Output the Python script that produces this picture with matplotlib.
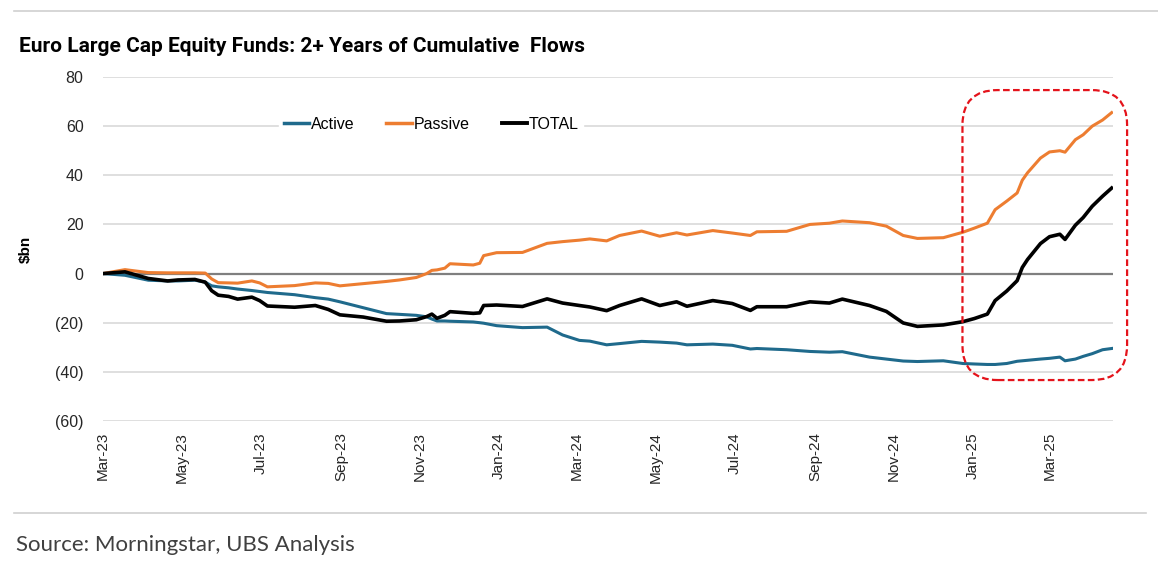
import matplotlib
matplotlib.use('Agg')
import matplotlib.pyplot as plt
import matplotlib.dates as mdates
import pandas as pd
from matplotlib.patches import FancyBboxPatch
from matplotlib.lines import Line2D

# cumulative flows, $bn
dates = [
    '2023-03-01', '2023-03-18', '2023-04-05', '2023-04-20', '2023-04-28', '2023-05-11',
    '2023-05-19', '2023-05-24', '2023-05-29', '2023-06-06', '2023-06-13', '2023-06-24',
    '2023-06-30', '2023-07-06', '2023-07-27', '2023-08-12', '2023-08-22', '2023-08-31',
    '2023-09-18', '2023-10-06', '2023-10-16', '2023-10-29', '2023-11-06', '2023-11-10',
    '2023-11-14', '2023-11-20', '2023-11-24', '2023-12-12', '2023-12-17', '2023-12-20',
    '2023-12-30', '2024-01-19', '2024-02-07', '2024-02-19', '2024-03-03', '2024-03-11',
    '2024-03-24', '2024-04-03', '2024-04-20', '2024-05-04', '2024-05-17', '2024-05-25',
    '2024-06-14', '2024-06-29', '2024-07-13', '2024-07-18', '2024-08-10', '2024-08-28',
    '2024-09-12', '2024-09-22', '2024-10-13', '2024-10-26', '2024-11-08', '2024-11-19',
    '2024-12-09', '2024-12-24', '2025-01-02', '2025-01-12', '2025-01-18', '2025-01-27',
    '2025-02-04', '2025-02-08', '2025-02-12', '2025-02-22', '2025-03-01', '2025-03-09',
    '2025-03-13', '2025-03-21', '2025-03-27', '2025-04-03', '2025-04-11', '2025-04-18',
]

active = [
    0, -0.7, -2.7, -3, -3, -2.7,
    -3.5, -5, -5.4, -5.8, -6.3, -6.9,
    -7.3, -7.7, -8.6, -9.8, -10.4, -11.5,
    -13.9, -16.3, -16.6, -17, -17.6, -18.5,
    -19.3, -19.3, -19.4, -19.7, -20, -20.2,
    -21.2, -22, -21.8, -25, -27.2, -27.5,
    -29, -28.5, -27.6, -27.9, -28.3, -29,
    -28.7, -29.2, -30.7, -30.5, -31, -31.7,
    -32, -31.8, -34, -34.8, -35.6, -35.8,
    -35.5, -36.6, -36.8, -37, -37, -36.6,
    -35.7, -35.5, -35.3, -34.8, -34.5, -34,
    -35.5, -34.8, -33.7, -32.6, -31, -30.5,
]

passive = [
    0, 1.6, 0.4, 0.3, 0.3, 0.3,
    0.2, -2.2, -3.7, -3.8, -3.9, -3,
    -3.8, -5.4, -4.9, -3.8, -4, -5,
    -4.1, -3.2, -2.6, -1.6, 0, 1.3,
    1.5, 2.2, 4, 3.5, 4.2, 7.3,
    8.5, 8.6, 12.3, 13, 13.6, 14.1,
    13.3, 15.5, 17.3, 15.2, 16.6, 15.7,
    17.5, 16.5, 15.5, 17, 17.2, 20,
    20.5, 21.4, 20.7, 19.3, 15.5, 14.3,
    14.6, 16.8, 18.5, 20.5, 26, 29.5,
    32.8, 38, 41, 47, 49.5, 50,
    49.4, 54.5, 56.5, 60, 62.5, 65.5,
]

total = [
    0, 0.7, -2, -3, -2.6, -2.4,
    -3.5, -7, -8.8, -9.3, -10.4, -9.6,
    -11, -13.2, -13.7, -13, -14.6, -16.8,
    -17.7, -19.4, -19.3, -18.8, -17.5, -16.5,
    -18.2, -17, -15.5, -16.2, -16, -13,
    -12.8, -13.4, -10.3, -12, -13, -13.6,
    -15.1, -13, -10.3, -13, -11.5, -13.3,
    -11, -12.2, -15, -13.5, -13.5, -11.5,
    -12, -10.4, -13, -15.4, -20.1, -21.5,
    -20.9, -19.6, -18.3, -16.5, -11, -7.1,
    -2.9, 2.5, 5.7, 12.2, 15, 16,
    13.9, 19.7, 22.8, 27.4, 31.5, 34.8,
]

y_ticks = [80, 60, 40, 20, 0, -20, -40, -60]
y_labels = ['80', '60', '40', '20', '0', '(20)', '(40)', '(60)']

ARIAL = ['Liberation Sans', 'DejaVu Sans']


def main():
    x = pd.to_datetime(dates)

    fig = plt.figure(figsize=(11.58, 5.65), dpi=100)
    ax = fig.add_axes([0.0889, 0.2549, 0.8722, 0.6088])

    ax.set_ylim(-60, 80)
    ax.set_xlim(pd.Timestamp('2023-03-01'), pd.Timestamp('2025-04-19'))
    ax.set_yticks(y_ticks)
    ax.set_yticklabels(y_labels, family=ARIAL)
    ax.yaxis.grid(True, color='#d9d9d9', linewidth=1.2)
    ax.set_axisbelow(True)
    ax.axhline(0, color='#7f7f7f', linewidth=1.6, zorder=1)

    ax.plot(x, active, color='#1f6a8c', linewidth=2.2, label='Active', zorder=3)
    ax.plot(x, passive, color='#ed7d31', linewidth=2.2, label='Passive', zorder=3)
    ax.plot(x, total, color='black', linewidth=2.6, label='TOTAL', zorder=4)

    ax.xaxis.set_major_locator(mdates.MonthLocator(bymonth=[1, 3, 5, 7, 9, 11]))
    ax.xaxis.set_major_formatter(mdates.DateFormatter('%b-%y'))
    for lab in ax.get_xticklabels():
        lab.set_rotation(90)
        lab.set_family(ARIAL)
    ax.tick_params(axis='x', length=0, pad=8, labelsize=11, labelcolor='#262626')
    ax.tick_params(axis='y', length=0, pad=14, labelsize=11.5, labelcolor='#262626')
    for s in ax.spines.values():
        s.set_visible(False)

    ax.set_ylabel('$bn', fontsize=11, fontweight='bold', labelpad=16, family=ARIAL)

    handles = [Line2D([], [], color='#1f6a8c', linewidth=2.5),
               Line2D([], [], color='#ed7d31', linewidth=2.5),
               Line2D([], [], color='black', linewidth=2.8)]
    leg = ax.legend(handles, ['Active', 'Passive', 'TOTAL'], loc='center',
                    bbox_to_anchor=(0.325, 0.862), ncol=3, frameon=True,
                    prop={'family': ARIAL, 'size': 11.5}, handlelength=1.6,
                    handletextpad=0.1, columnspacing=2.0, borderpad=0.3)
    leg.get_frame().set_facecolor('white')
    leg.get_frame().set_edgecolor('white')
    leg.get_frame().set_alpha(1)

    box = FancyBboxPatch((0.851, 0.119), 0.163, 0.843,
                         boxstyle='round,pad=0,rounding_size=0.035',
                         transform=ax.transAxes, fill=False, edgecolor='#e4131b',
                         linestyle=(0, (3, 1.5)), linewidth=1.6, clip_on=False,
                         mutation_aspect=2.9, zorder=5)
    ax.add_patch(box)

    fig.text(0.016, 0.918, 'Euro Large Cap Equity Funds: 2+ Years of Cumulative  Flows',
             fontsize=15, fontweight='bold', family=['Roboto', 'DejaVu Sans'],
             va='center', ha='left')
    fig.text(0.014, 0.035, 'Source: Morningstar, UBS Analysis', fontsize=16,
             family=['Lato', 'DejaVu Sans'], color='#404040', va='center', ha='left')

    fig.add_artist(Line2D([0.012, 1.0], [0.981, 0.981], transform=fig.transFigure,
                          color='#d0d0d0', linewidth=1.2))
    fig.add_artist(Line2D([0.012, 0.99], [0.092, 0.092], transform=fig.transFigure,
                          color='#d0d0d0', linewidth=1.2))

    fig.savefig('out.png', dpi=100)


if __name__ == '__main__':
    main()
